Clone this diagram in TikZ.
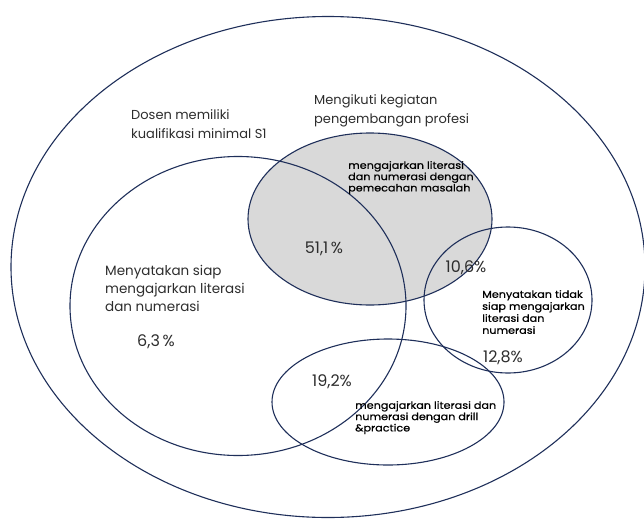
\documentclass[tikz,border=0pt]{standalone}
\usepackage{fontspec}
\setmainfont{Poppins}
\newfontfamily\notefont{Poppins}[FakeStretch=1.12, FakeBold=0.8]
\usetikzlibrary{calc, shapes.geometric}
\usetikzlibrary{positioning}

\definecolor{setline}{RGB}{31,47,90}
\definecolor{shade}{RGB}{217,217,217}
\definecolor{labeltext}{RGB}{45,45,45}

\tikzset{
  set/.style={ellipse, draw=setline, line width=1.1pt, inner sep=0pt},
  lbl/.style={anchor=north west, align=left, inner sep=0pt, text=labeltext, font=\fontsize{13}{19.5}\selectfont},
  note/.style={anchor=north west, align=left, inner sep=0pt, text=black, font=\notefont\fontsize{10}{11.3}\selectfont},
  pct/.style={inner sep=0pt, text=labeltext, font=\fontsize{16}{18}\selectfont}
}

\begin{document}
\begin{tikzpicture}[x=1pt, y=-1pt]
        \useasboundingbox (0,0) rectangle (644,519);

        % shaded set
        \node[ellipse, fill=shade, minimum width=244pt, minimum height=172pt] (masalahfill) at (370,219) {};

        % sets
        \node[set, minimum width=634pt, minimum height=501pt] (dosen) at (328,267) {};
        \node[set, minimum width=336pt, minimum height=299pt] (siap) at (238,306) {};
        \node[set, minimum width=244pt, minimum height=172pt] (masalah) at (370,219) {};
        \node[set, minimum width=168pt, minimum height=146pt] (tidak) at (508,300) {};
        \node[set, minimum width=232pt, minimum height=126pt] (drill) at (388,402) {};

        % set labels
        \node[lbl] (dosenlbl) at (131,109) {Dosen memiliki\\kualifikasi minimal S1};
        \node[lbl] (profesilbl) at (314,94) {Mengikuti kegiatan\\pengembangan profesi};
        \node[lbl, font=\fontsize{13.5}{18}\selectfont] (siaplbl) at (105,265) {Menyatakan siap\\mengajarkan literasi\\dan numerasi};
        \node[note] (masalahlbl) at (348,161) {mengajarkan literasi\\dan numerasi dengan\\pemecahan masalah};
        \node[note, font=\notefont\fontsize{10}{12}\selectfont] (tidaklbl) at (482,290) {Menyatakan tidak\\siap mengajarkan\\literasi dan\\numerasi};
        \node[note] (drilllbl) at (355,401) {mengajarkan literasi dan\\numerasi dengan drill\\\&practice};

        % percentages
        \node[pct] (p1) at (156,342) {6,3\,\%};
        \node[pct] (p2) at (324,249) {51,1\,\%};
        \node[pct] (p3) at (466,268) {10,6\%};
        \node[pct] (p4) at (503,358) {12,8\%};
        \node[pct] (p5) at (332,382) {19,2\%};

    \end{tikzpicture}
\end{document}
